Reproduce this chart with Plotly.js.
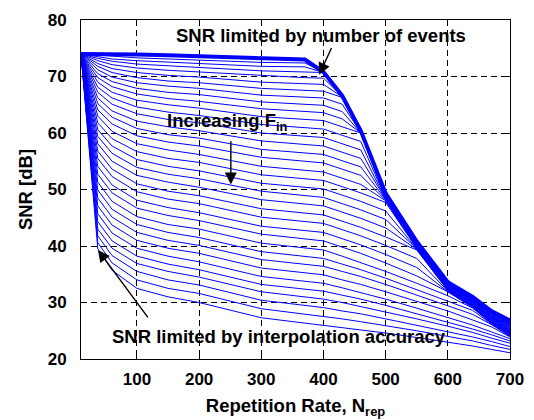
<!DOCTYPE html>
<html>
<head>
<meta charset="utf-8">
<script src="https://cdn.plot.ly/plotly-3.0.1.min.js"></script>
<style>
  html, body { margin: 0; padding: 0; background: #fff; }
  #chart { width: 534px; height: 420px; }
</style>
</head>
<body>
<div id="chart"></div>
<script>
// Repetition rates at which the SNR was evaluated
const nRep = [10, 37, 60, 100, 150, 200, 300, 370, 400, 430, 460, 500, 550, 600, 640, 670, 700];

// Upper bound: SNR limited only by the number of events
const snrEventLimit = [74.0, 74.0, 73.95, 73.9, 73.75, 73.6, 73.3, 73.0, 70.8, 66.6, 60.4, 49.3, 40.8, 33.6, 31.0, 28.5, 26.8];

// SNR for increasing input frequency F_in (one array per frequency)
const snrFin01 = [74, 73.8, 73.5, 73.3, 73.1, 72.9, 72.5, 72.4, 70.8, 66.6, 60.4, 49.2, 40.7, 33.5, 30.9, 28.4, 26.7];
const snrFin02 = [74, 73.5, 73.1, 72.8, 72.5, 72.3, 71.8, 71.7, 70.7, 66.5, 60.3, 49.1, 40.6, 33.5, 30.8, 28.3, 26.6];
const snrFin03 = [74, 73.2, 72.7, 72.2, 71.9, 71.6, 71.0, 70.8, 70.7, 66.5, 60.3, 49.1, 40.5, 33.4, 30.8, 28.2, 26.5];
const snrFin04 = [74, 72.8, 72.1, 71.5, 71.1, 70.8, 70.1, 69.8, 69.7, 66.5, 60.2, 49.0, 40.5, 33.3, 30.7, 28.2, 26.4];
const snrFin05 = [74, 72.3, 71.4, 70.7, 70.2, 69.9, 69.0, 68.7, 68.6, 66.4, 60.2, 48.9, 40.4, 33.2, 30.6, 28.1, 26.3];
const snrFin06 = [74, 71.8, 70.7, 69.8, 69.2, 68.9, 67.9, 67.5, 67.4, 66.3, 60.1, 48.8, 40.3, 33.2, 30.5, 28.0, 26.2];
const snrFin07 = [74, 71.2, 69.9, 68.9, 68.3, 67.9, 66.7, 66.4, 66.2, 65.1, 60.1, 48.7, 40.3, 33.1, 30.4, 27.9, 26.1];
const snrFin08 = [74, 70.5, 69.1, 67.9, 67.2, 66.8, 65.5, 65.1, 64.9, 63.8, 60.0, 48.7, 40.2, 33.0, 30.4, 27.8, 26.0];
const snrFin09 = [74, 69.8, 68.2, 66.9, 66.1, 65.6, 64.3, 63.8, 63.6, 62.5, 60.0, 48.6, 40.1, 33.0, 30.3, 27.7, 25.9];
const snrFin10 = [74, 69.0, 67.2, 65.8, 65.0, 64.4, 62.9, 62.4, 62.2, 61.1, 60.0, 48.5, 40.1, 32.9, 30.2, 27.6, 25.8];
const snrFin11 = [74, 68.1, 66.2, 64.6, 63.7, 63.1, 61.5, 60.9, 60.7, 59.6, 58.5, 48.4, 40.0, 32.8, 30.1, 27.5, 25.7];
const snrFin12 = [74, 67.2, 65.1, 63.4, 62.4, 61.8, 60.0, 59.5, 59.2, 58.1, 57.0, 48.3, 39.9, 32.7, 30.0, 27.4, 25.6];
const snrFin13 = [74, 66.2, 63.9, 62.1, 61.1, 60.4, 58.6, 58.0, 57.7, 56.6, 55.5, 48.3, 39.9, 32.7, 30.0, 27.4, 25.4];
const snrFin14 = [74, 65.2, 62.8, 60.8, 59.7, 59.1, 57.1, 56.5, 56.2, 55.1, 54.0, 48.2, 39.8, 32.6, 29.9, 27.3, 25.3];
const snrFin15 = [74, 64.1, 61.6, 59.5, 58.4, 57.7, 55.7, 55.0, 54.7, 53.6, 52.5, 48.1, 39.7, 32.5, 29.8, 27.2, 25.2];
const snrFin16 = [74, 63.0, 60.3, 58.1, 57.0, 56.2, 54.1, 53.4, 53.1, 52.0, 50.9, 48.0, 39.7, 32.4, 29.7, 27.1, 25.1];
const snrFin17 = [74, 61.8, 59.0, 56.7, 55.5, 54.8, 52.6, 51.9, 51.6, 50.5, 49.4, 47.7, 39.6, 32.4, 29.6, 27.0, 25.0];
const snrFin18 = [74, 60.6, 57.7, 55.3, 54.1, 53.3, 51.1, 50.4, 50.1, 49.0, 47.9, 46.2, 39.5, 32.3, 29.6, 26.9, 24.9];
const snrFin19 = [74, 59.4, 56.4, 53.9, 52.7, 51.9, 49.7, 48.9, 48.6, 47.5, 46.4, 44.7, 39.5, 32.2, 29.5, 26.8, 24.8];
const snrFin20 = [74, 58.1, 55.0, 52.5, 51.3, 50.4, 48.2, 47.4, 47.1, 46.0, 44.9, 43.2, 39.4, 32.2, 29.4, 26.7, 24.7];
const snrFin21 = [74, 56.8, 53.6, 51.0, 49.7, 48.9, 46.6, 45.8, 45.5, 44.4, 43.3, 41.6, 39.3, 32.1, 29.3, 26.6, 24.6];
const snrFin22 = [74, 55.5, 52.3, 49.6, 48.3, 47.5, 45.1, 44.3, 44.0, 42.9, 41.8, 40.1, 37.8, 32.0, 29.2, 26.6, 24.5];
const snrFin23 = [74, 54.1, 50.8, 48.1, 46.8, 45.9, 43.5, 42.7, 42.4, 41.3, 40.2, 38.5, 36.2, 31.9, 29.2, 26.5, 24.4];
const snrFin24 = [74, 52.7, 49.4, 46.7, 45.4, 44.5, 42.1, 41.2, 40.9, 39.8, 38.7, 37.0, 34.7, 31.9, 29.1, 26.4, 24.3];
const snrFin25 = [74, 51.3, 47.9, 45.2, 43.8, 43.0, 40.5, 39.7, 39.3, 38.2, 37.1, 35.5, 33.4, 31.2, 29.0, 26.3, 24.2];
const snrFin26 = [74, 49.9, 46.5, 43.8, 42.4, 41.5, 39.0, 38.2, 37.8, 36.8, 35.8, 34.3, 32.3, 30.3, 28.6, 26.2, 24.1];
const snrFin27 = [74, 48.5, 45.1, 42.4, 41.0, 40.1, 37.6, 36.8, 36.4, 35.5, 34.6, 33.2, 31.3, 29.5, 27.9, 26.1, 24.0];
const snrFin28 = [74, 47.1, 43.7, 41.0, 39.6, 38.7, 36.1, 35.3, 34.9, 34.0, 33.2, 31.9, 30.2, 28.5, 26.9, 25.7, 23.9];
const snrFin29 = [74, 45.7, 42.3, 39.6, 38.2, 37.2, 34.6, 33.8, 33.4, 32.6, 31.8, 30.6, 29.0, 27.4, 26.0, 24.8, 23.6];
const snrFin30 = [74, 44.3, 40.9, 38.2, 36.8, 35.8, 33.2, 32.4, 32.0, 31.3, 30.6, 29.5, 28.0, 26.6, 25.3, 24.3, 23.2];
const snrFin31 = [74, 43.0, 39.6, 36.9, 35.5, 34.5, 31.9, 31.0, 30.6, 30.0, 29.3, 28.4, 27.1, 25.8, 24.7, 23.7, 22.8];
const snrFin32 = [74, 41.8, 38.3, 35.5, 34.0, 33.1, 30.4, 29.5, 29.1, 28.5, 28.0, 27.1, 26.0, 24.9, 23.9, 23.1, 22.2];
const snrFin33 = [74, 40.6, 37.0, 34.0, 32.5, 31.6, 28.9, 28.0, 27.6, 27.1, 26.6, 25.9, 25.0, 24.0, 23.2, 22.4, 21.7];
const snrFin34 = [74, 39.5, 35.7, 32.5, 31.0, 30.0, 27.3, 26.4, 26.0, 25.6, 25.2, 24.6, 23.8, 23.0, 22.3, 21.7, 21.1];

const xTickVals = [100, 200, 300, 400, 500, 600, 700];
const yTickVals = [20, 30, 40, 50, 60, 70, 80];

const finCurves = [
  snrFin01, snrFin02, snrFin03, snrFin04, snrFin05, snrFin06, snrFin07, snrFin08, snrFin09, snrFin10,
  snrFin11, snrFin12, snrFin13, snrFin14, snrFin15, snrFin16, snrFin17, snrFin18, snrFin19, snrFin20,
  snrFin21, snrFin22, snrFin23, snrFin24, snrFin25, snrFin26, snrFin27, snrFin28, snrFin29, snrFin30,
  snrFin31, snrFin32, snrFin33, snrFin34
];

const BLUE = '#0000ff';
const FONT = 'Liberation Sans, Arial, Helvetica, sans-serif';

const traces = finCurves.map(function (ys) {
  return { x: nRep, y: ys, mode: 'lines', line: { color: BLUE, width: 1 }, hoverinfo: 'skip' };
});
traces.push({ x: nRep, y: snrEventLimit, mode: 'lines', line: { color: BLUE, width: 4 }, hoverinfo: 'skip' });

const labelFont = { family: FONT, size: 18.5, color: '#000', weight: 'bold' };

// Arrow from a tail point to a tip point, both in data coordinates
function arrow(tipX, tipY, tailX, tailY) {
  return {
    x: tipX, y: tipY, ax: tailX, ay: tailY, axref: 'x', ayref: 'y',
    text: '', showarrow: true, arrowhead: 2, arrowsize: 1.7, arrowwidth: 1.4, arrowcolor: '#000'
  };
}

const axisCommon = {
  showline: true, linecolor: '#000', linewidth: 1, mirror: 'allticks',
  ticks: 'inside', ticklen: 5, tickcolor: '#000', tickwidth: 1,
  showgrid: true, gridcolor: '#000', gridwidth: 1, griddash: '6px,4px',
  zeroline: false,
  tickfont: { family: FONT, size: 17, color: '#000', weight: 'bold' }
};

const layout = {
  width: 534, height: 420,
  margin: { l: 81, r: 24, t: 20, b: 61 },
  paper_bgcolor: '#fff', plot_bgcolor: '#fff',
  showlegend: false,
  font: { family: FONT, color: '#000' },
  xaxis: Object.assign({}, axisCommon, {
    range: [10, 700], tickvals: xTickVals, ticklabelstandoff: 5,
    title: { text: 'Repetition Rate, N<sub>rep</sub>', font: labelFont, standoff: 10 }
  }),
  yaxis: Object.assign({}, axisCommon, {
    range: [20, 80], tickvals: yTickVals, ticklabelstandoff: 10,
    title: { text: 'SNR [dB]', font: labelFont, standoff: 10 }
  }),
  annotations: [
    { x: 396, y: 77.2, text: 'SNR limited by number of events', showarrow: false,
      xanchor: 'center', yanchor: 'middle', font: labelFont },
    { x: 245.6, y: 62.0, text: 'Increasing F<sub>in</sub>', showarrow: false,
      xanchor: 'center', yanchor: 'middle', font: labelFont },
    { x: 328.5, y: 24.0, text: 'SNR limited by interpolation accuracy', showarrow: false,
      xanchor: 'center', yanchor: 'middle', font: labelFont },
    arrow(393, 70.3, 414, 75.3),
    arrow(251, 50.9, 251, 58.8),
    arrow(37.3, 39.3, 119.4, 27.1)
  ]
};

Plotly.newPlot('chart', traces, layout, { staticPlot: true, displayModeBar: false });
</script>
</body>
</html>
